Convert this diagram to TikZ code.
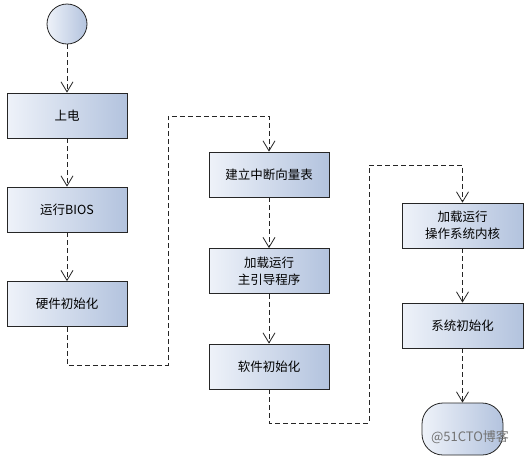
\documentclass[tikz,border=0pt]{standalone}
\usepackage{fontspec}
\newfontfamily\cjk{Noto Sans CJK SC}
\usepackage{tikz}
\usetikzlibrary{arrows.meta}
\definecolor{boxleft}{HTML}{EEF2F9}
\definecolor{boxright}{HTML}{B3C3DE}
\tikzstyle{step box} = [draw=black!85, line width=0.8pt, left color=boxleft, right color=boxright, minimum width=120pt, minimum height=45pt, align=center, font={\cjk\fontsize{12.5}{17}\selectfont}]
\tikzstyle{startnode} = [draw=black!85, line width=0.8pt, circle, left color=boxleft, right color=boxright, minimum size=40pt, inner sep=0pt]
\tikzstyle{endnode} = [step box, minimum width=81pt, minimum height=52pt, rounded corners=21pt]
\tikzstyle{flow} = [draw=black!85, line width=0.8pt, dash pattern=on 5pt off 3pt, -{Straight Barb[length=10pt,width=12pt]}]

\begin{document}
\begin{tikzpicture}[x=1pt,y=-1pt]
    \useasboundingbox[fill=white] (0,0) rectangle (526,456);
    \node[startnode](s) at (67,24){};
    \node[step box](0) at (67,115.5){上电};
    \node[step box](1) at (67,209.5){运行BIOS};
    \node[step box](2) at (67,304){硬件初始化};
    \node[step box](3) at (269,174.5){建立中断向量表};
    \node[step box](4) at (269,271){加载运行\\主引导程序};
    \node[step box](5) at (269,366.5){软件初始化};
    \node[step box,minimum width=121pt](6) at (462.5,225.5){加载运行\\操作系统内核};
    \node[step box,minimum width=121pt](7) at (462.5,325.5){系统初始化};
    \node[endnode](e) at (462.5,429){};
    \node[font={\cjk\fontsize{13}{15}\selectfont}, text=black!55](w) at (470,437.5){@51CTO博客};
    \draw[flow](s)--(0);
    \draw[flow](0)--(1);
    \draw[flow](1)--(2);
    \draw[flow](2.south) |- (168,365) -- (168,116) -| (3.north);
    \draw[flow](3)--(4);
    \draw[flow](4)--(5);
    \draw[flow](5.south) |- (369,423) -- (369,165) -| (6.north);
    \draw[flow](6)--(7);
    \draw[flow](7)--(e);
  \end{tikzpicture}
\end{document}
